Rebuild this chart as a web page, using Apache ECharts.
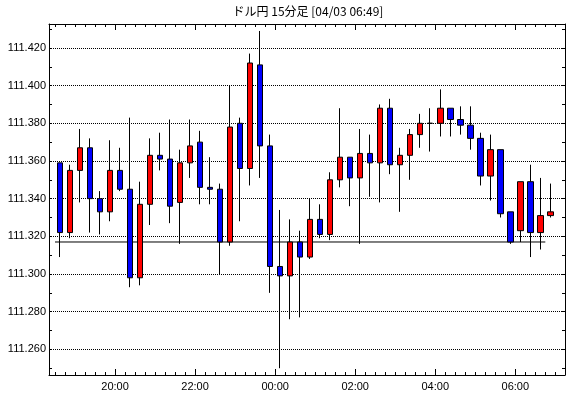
<!DOCTYPE html>
<html>
<head>
<meta charset="utf-8">
<script src="https://cdn.jsdelivr.net/npm/echarts@6/dist/echarts.min.js"></script>
<style>
html, body { margin: 0; padding: 0; background: #fff; }
#main { width: 570px; height: 398px; }
</style>
</head>
<body>
<div id="main"></div>
<script>
const chartDom = document.getElementById('main');
let myChart = echarts.init(chartDom);

const title = 'ドル円 15分足 [04/03 06:49]';

const times = [
    '18:30', '18:45', '19:00', '19:15', '19:30', '19:45',
    '20:00', '20:15', '20:30', '20:45', '21:00', '21:15', '21:30', '21:45',
    '22:00', '22:15', '22:30', '22:45', '23:00', '23:15', '23:30', '23:45',
    '00:00', '00:15', '00:30', '00:45', '01:00', '01:15', '01:30', '01:45',
    '02:00', '02:15', '02:30', '02:45', '03:00', '03:15', '03:30', '03:45',
    '04:00', '04:15', '04:30', '04:45', '05:00', '05:15', '05:30', '05:45',
    '06:00', '06:15', '06:30', '06:45'
];

const openVals = [
    111.359, 111.322, 111.355, 111.367, 111.340, 111.333, 111.355, 111.345, 111.298, 111.337,
    111.363, 111.361, 111.338, 111.359, 111.370, 111.346, 111.345, 111.317, 111.380, 111.356,
    111.411, 111.368, 111.304, 111.299, 111.317, 111.309, 111.329, 111.321, 111.350, 111.362,
    111.351, 111.364, 111.359, 111.388, 111.358, 111.363, 111.374, 111.380, 111.380, 111.388,
    111.382, 111.379, 111.372, 111.352, 111.366, 111.333, 111.323, 111.349, 111.322, 111.331
];
const closeVals = [
    111.322, 111.355, 111.367, 111.340, 111.333, 111.355, 111.345, 111.298, 111.337, 111.363,
    111.361, 111.336, 111.359, 111.368, 111.346, 111.345, 111.317, 111.378, 111.356, 111.412,
    111.368, 111.304, 111.299, 111.317, 111.309, 111.329, 111.321, 111.350, 111.362, 111.351,
    111.364, 111.359, 111.388, 111.358, 111.363, 111.374, 111.380, 111.380, 111.388, 111.382,
    111.379, 111.372, 111.352, 111.366, 111.332, 111.317, 111.349, 111.322, 111.331, 111.333
];
const lowVals = [
    111.309, 111.319, 111.338, 111.322, 111.321, 111.328, 111.344, 111.293, 111.294, 111.326,
    111.355, 111.327, 111.316, 111.351, 111.337, 111.337, 111.300, 111.315, 111.328, 111.347,
    111.351, 111.290, 111.250, 111.276, 111.277, 111.308, 111.319, 111.318, 111.346, 111.336,
    111.316, 111.341, 111.338, 111.353, 111.333, 111.350, 111.367, 111.365, 111.373, 111.373,
    111.374, 111.366, 111.347, 111.339, 111.330, 111.316, 111.317, 111.309, 111.313, 111.330
];
const highVals = [
    111.359, 111.358, 111.377, 111.372, 111.344, 111.371, 111.367, 111.383, 111.349, 111.372,
    111.375, 111.382, 111.366, 111.382, 111.376, 111.362, 111.348, 111.400, 111.383, 111.417,
    111.429, 111.374, 111.334, 111.329, 111.323, 111.340, 111.337, 111.354, 111.388, 111.362,
    111.377, 111.374, 111.390, 111.393, 111.367, 111.377, 111.385, 111.388, 111.398, 111.388,
    111.389, 111.389, 111.375, 111.374, 111.366, 111.333, 111.349, 111.358, 111.351, 111.348
];

const refLevel = 111.317;

const yLabels = ['111.260', '111.280', '111.300', '111.320', '111.340', '111.360', '111.380', '111.400', '111.420'];

// minutes since 18:00, wrapping past midnight
toMin = (s) => {
    let [h, m] = s.split(':').map(Number);
    if (h < 12) h += 24;
    return (h - 18) * 60 + m;
}

fmtMin = (v) => {
    let h = Math.floor(Math.round(v) / 60) + 18;
    let m = Math.round(v) % 60;
    h = h % 24;
    return `${String(h).padStart(2, '0')}:${String(m).padStart(2, '0')}`;
}

const slot = 15;
const starts = times.map(toMin);
const candles = starts.map((t, i) => [t + slot / 2, openVals[i], closeVals[i], lowVals[i], highVals[i]]);

const xTicks = starts.concat([starts[starts.length - 1] + slot]);
const xLabelVals = times.filter((s) => {
    const [h, m] = s.split(':').map(Number);
    return m === 0 && h % 2 === 0;
}).map(toMin);

const yMin = 111.2464, yMax = 111.4327;
const yTicks = [];
for (let v = 111.25; v < yMax; v += 0.01) yTicks.push(+v.toFixed(3));

const fontFam = '"Liberation Sans", Arial, sans-serif';
const black = '#000';

const xBase = { type: 'value', min: 21, max: 794.5, gridIndex: 0, splitLine: { show: false } };
const yBase = { type: 'value', min: yMin, max: yMax, gridIndex: 0 };

const tickAxisX = (position, values, length, showLine) => Object.assign({}, xBase, {
    position,
    axisLine: { show: showLine, onZero: false, lineStyle: { color: black, width: 1 } },
    axisTick: { show: true, inside: true, length, customValues: values, lineStyle: { color: black } },
    axisLabel: { show: false }
});

const tickAxisY = (position) => Object.assign({}, yBase, {
    position,
    axisLine: { show: true, onZero: false, lineStyle: { color: black, width: 1 } },
    axisTick: { show: true, inside: true, length: 3, customValues: yTicks, lineStyle: { color: black } },
    axisLabel: { show: false },
    splitLine: { show: false }
});

myChart.setOption({
    animation: false,
    backgroundColor: '#fff',
    title: {
        text: title,
        left: 308,
        top: 5,
        textAlign: 'center',
        padding: 0,
        textStyle: { fontSize: 12, fontWeight: 'normal', color: black, fontFamily: '"Noto Sans CJK JP", sans-serif' }
    },
    grid: { left: 49, right: 5, top: 24, bottom: 23, containLabel: false },
    xAxis: [
        Object.assign(tickAxisX('bottom', xTicks, 3, true), {
            axisLabel: {
                show: true,
                customValues: xLabelVals,
                formatter: fmtMin,
                color: black,
                fontSize: 11,
                fontFamily: fontFam,
                margin: 6
            }
        }),
        tickAxisX('bottom', xLabelVals, 6, false),
        tickAxisX('top', xTicks, 3, true),
        tickAxisX('top', xLabelVals, 6, false)
    ],
    yAxis: [
        Object.assign({}, yBase, {
            position: 'left',
            minInterval: 0.02,
            maxInterval: 0.02,
            axisLine: { show: false },
            axisTick: { show: false },
            axisLabel: {
                color: black,
                fontSize: 11,
                fontFamily: fontFam,
                margin: 3,
                showMinLabel: false,
                showMaxLabel: false,
                formatter: (v) => yLabels.find((s) => Math.abs(+s - v) < 1e-6) || ''
            },
            splitLine: { show: true, lineStyle: { color: black, type: 'dotted', width: 1 } }
        }),
        tickAxisY('left'),
        tickAxisY('right')
    ],
    series: [
        {
            type: 'line',
            xAxisIndex: 0,
            yAxisIndex: 0,
            data: [[starts[0], refLevel], [starts[starts.length - 1], refLevel]],
            symbol: 'none',
            silent: true,
            lineStyle: { color: black, width: 1 },
            z: 1
        },
        {
            type: 'candlestick',
            xAxisIndex: 0,
            yAxisIndex: 0,
            dimensions: ['t', 'open', 'close', 'low', 'high'],
            encode: { x: 't', y: ['open', 'close', 'low', 'high'] },
            data: candles,
            barWidth: 6,
            z: 3,
            itemStyle: {
                color: '#ff0000',
                color0: '#0000ff',
                borderColor: black,
                borderColor0: black,
                borderColorDoji: black,
                borderWidth: 1
            }
        }
    ]
});
</script>
</body>
</html>
